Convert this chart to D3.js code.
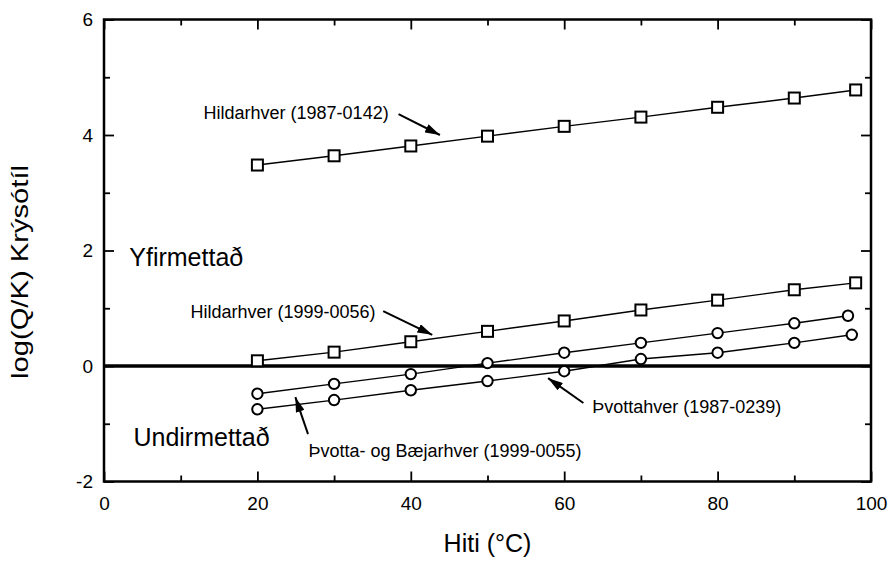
<!DOCTYPE html>
<html>
<head>
<meta charset="utf-8">
<script src="https://cdn.jsdelivr.net/npm/d3@7"></script>
<style>
  body { margin: 0; background: #fff; }
  svg { display: block; }
  text { font-family: "Liberation Sans", Arial, Helvetica, sans-serif; fill: #000; }
</style>
</head>
<body>
<svg id="chart" width="891" height="562"></svg>
<script>
// ---- data ----
const xTicks = [0, 20, 40, 60, 80, 100];
const xMinor = [10, 30, 50, 70, 90];
const yTicks = [-2, 0, 2, 4, 6];
const yMinor = [-1, 1, 3, 5];

const hild1987X = [20, 30, 40, 50, 60, 70, 80, 90, 98];
const hild1987Y = [3.48, 3.64, 3.81, 3.98, 4.15, 4.31, 4.48, 4.64, 4.78];

const hild1999X = [20, 30, 40, 50, 60, 70, 80, 90, 98];
const hild1999Y = [0.09, 0.24, 0.42, 0.60, 0.78, 0.97, 1.14, 1.32, 1.44];

const thvBaeX = [20, 30, 40, 50, 60, 70, 80, 90, 97];
const thvBaeY = [-0.48, -0.31, -0.14, 0.05, 0.23, 0.40, 0.57, 0.74, 0.87];

const thv1987X = [20, 30, 40, 50, 60, 70, 80, 90, 97.5];
const thv1987Y = [-0.75, -0.59, -0.42, -0.26, -0.09, 0.12, 0.23, 0.40, 0.54];

const seriesNames = ["Hildarhver (1987-0142)", "Hildarhver (1999-0056)", "Þvotta- og Bæjarhver (1999-0055)", "Þvottahver (1987-0239)"];
const seriesMarkers = ["square", "square", "circle", "circle"];

// annotation labels in data units
const labelTexts = seriesNames;
const labelX = [12.98, 11.27, 26.65, 63.65];
const labelY = [4.28, 0.83, -1.58, -0.81];
// arrows: from (x1,y1) to (x2,y2) in data units
const arrowX1 = [38.4, 36.4, 26.6, 62.5];
const arrowY1 = [4.36, 0.95, -1.18, -0.64];
const arrowX2 = [43.8, 42.8, 24.95, 57.9];
const arrowY2 = [4.0, 0.54, -0.54, -0.21];

const regionTexts = ["Yfirmettað", "Undirmettað"];
const regionX = [3.3, 3.84];
const regionY = [1.73, -1.39];

const xTitle = "Hiti (°C)";
const yTitle = "log(Q/K) Krýsótíl";

// ---- layout ----
const svg = d3.select("#chart");
const L = 104, R = 871, T = 19.5, B = 481.5;
const x = d3.scaleLinear().domain([0, 100]).range([L, R]);
const y = d3.scaleLinear().domain([-2, 6]).range([B, T]);

svg.append("defs").append("marker")
  .attr("id", "arrow").attr("viewBox", "0 0 15 9")
  .attr("refX", 15).attr("refY", 4.5)
  .attr("markerWidth", 15).attr("markerHeight", 9)
  .attr("markerUnits", "userSpaceOnUse")
  .attr("orient", "auto")
  .append("path").attr("d", "M0,0 L15,4.5 L0,9 Z").attr("fill", "#000");

const fmt = d => String(d);
function styleAxis(g) {
  g.select(".domain").remove();
  g.selectAll(".tick line").attr("stroke", "#000").attr("stroke-width", 1.8);
  g.selectAll(".tick text").attr("font-size", 19).attr("fill", "#000");
}
svg.append("g").attr("transform", `translate(0,${B})`)
  .call(d3.axisBottom(x).tickValues(xTicks).tickSizeInner(-10).tickSizeOuter(0).tickPadding(15).tickFormat(fmt))
  .call(styleAxis);
svg.append("g").attr("transform", `translate(0,${B})`)
  .call(d3.axisBottom(x).tickValues(xMinor).tickSizeInner(-6).tickSizeOuter(0).tickFormat(""))
  .call(styleAxis);
svg.append("g").attr("transform", `translate(0,${T})`)
  .call(d3.axisTop(x).tickValues(xTicks).tickSizeInner(-10).tickSizeOuter(0).tickFormat(""))
  .call(styleAxis);
svg.append("g").attr("transform", `translate(0,${T})`)
  .call(d3.axisTop(x).tickValues(xMinor).tickSizeInner(-6).tickSizeOuter(0).tickFormat(""))
  .call(styleAxis);
svg.append("g").attr("transform", `translate(${L},0)`)
  .call(d3.axisLeft(y).tickValues(yTicks).tickSizeInner(-10).tickSizeOuter(0).tickPadding(11).tickFormat(fmt))
  .call(styleAxis);
svg.append("g").attr("transform", `translate(${L},0)`)
  .call(d3.axisLeft(y).tickValues(yMinor).tickSizeInner(-6).tickSizeOuter(0).tickFormat(""))
  .call(styleAxis);
svg.append("g").attr("transform", `translate(${R},0)`)
  .call(d3.axisRight(y).tickValues(yTicks).tickSizeInner(-10).tickSizeOuter(0).tickFormat(""))
  .call(styleAxis);
svg.append("g").attr("transform", `translate(${R},0)`)
  .call(d3.axisRight(y).tickValues(yMinor).tickSizeInner(-6).tickSizeOuter(0).tickFormat(""))
  .call(styleAxis);

// frame
svg.append("rect").attr("x", L).attr("y", T).attr("width", R - L).attr("height", B - T)
  .attr("fill", "none").attr("stroke", "#000").attr("stroke-width", 2.5);

// zero line
svg.append("line").attr("x1", x(0)).attr("x2", x(100)).attr("y1", y(0)).attr("y2", y(0))
  .attr("stroke", "#000").attr("stroke-width", 3.5);

// series
const series = [
  { xs: hild1987X, ys: hild1987Y, m: seriesMarkers[0] },
  { xs: hild1999X, ys: hild1999Y, m: seriesMarkers[1] },
  { xs: thvBaeX, ys: thvBaeY, m: seriesMarkers[2] },
  { xs: thv1987X, ys: thv1987Y, m: seriesMarkers[3] }
];
const line = d3.line().x(d => x(d[0])).y(d => y(d[1]));
series.forEach(s => {
  const pts = s.xs.map((v, i) => [v, s.ys[i]]);
  svg.append("path").datum(pts).attr("d", line)
    .attr("fill", "none").attr("stroke", "#000").attr("stroke-width", 1.4);
  if (s.m === "square") {
    svg.selectAll(null).data(pts).enter().append("rect")
      .attr("x", d => x(d[0]) - 5.5).attr("y", d => y(d[1]) - 5.5)
      .attr("width", 11).attr("height", 11)
      .attr("fill", "#fff").attr("stroke", "#000").attr("stroke-width", 2);
  } else {
    svg.selectAll(null).data(pts).enter().append("circle")
      .attr("cx", d => x(d[0])).attr("cy", d => y(d[1])).attr("r", 5.2)
      .attr("fill", "#fff").attr("stroke", "#000").attr("stroke-width", 2);
  }
});

// arrows
arrowX1.forEach((v, i) => {
  svg.append("line")
    .attr("x1", x(v)).attr("y1", y(arrowY1[i]))
    .attr("x2", x(arrowX2[i])).attr("y2", y(arrowY2[i]))
    .attr("stroke", "#000").attr("stroke-width", 2)
    .attr("marker-end", "url(#arrow)");
});

// labels
labelTexts.forEach((t, i) => {
  svg.append("text").attr("x", x(labelX[i])).attr("y", y(labelY[i]))
    .attr("font-size", 18).text(t);
});
regionTexts.forEach((t, i) => {
  svg.append("text").attr("x", x(regionX[i])).attr("y", y(regionY[i]))
    .attr("font-size", 25).text(t);
});

// axis titles
svg.append("text").attr("x", (L + R) / 2).attr("y", 552)
  .attr("text-anchor", "middle").attr("font-size", 25).text(xTitle);
svg.append("text").attr("transform", "translate(28,272) rotate(-90)")
  .attr("text-anchor", "middle").attr("font-size", 24)
  .attr("textLength", 214).attr("lengthAdjust", "spacingAndGlyphs")
  .text(yTitle);
</script>
</body>
</html>
